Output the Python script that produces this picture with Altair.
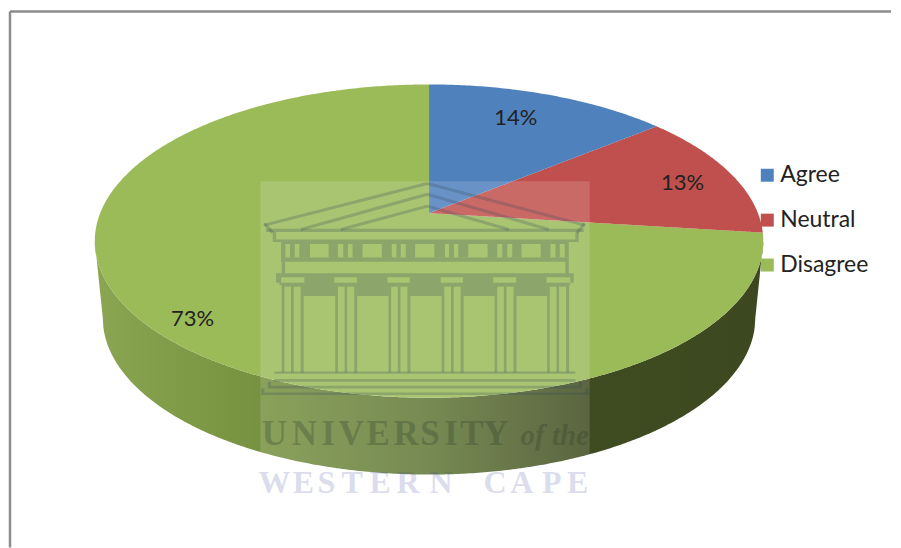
import numpy as np
import pandas as pd
import altair as alt

# ---------- chart values ----------
categories = ["Agree", "Neutral", "Disagree"]
shares = [14, 13, 73]
slice_colors = ["#4f81bd", "#c0504d", "#9bbb59"]
label_x = [517, 684, 193]
label_y = [118, 183, 319]
legend_x = [769, 769, 769]
legend_y = [175, 220, 265]

# ---------- watermark lettering ----------
line1_letters = list("UNIVERSITY")
line1_x = [275, 305, 329, 352, 379, 407, 431, 452, 473, 497]
line2_letters = list("WESTERNCAPE")
line2_x = [275, 304, 327, 353, 381, 409, 442, 496, 523, 553, 579]

# ---------- watermark temple, in 3x-zoom units of the logo box ----------
frieze_lights = [(108,122),(136,150),(182,238),(266,282),(296,310),(340,398),(428,442),
                 (455,470),(498,556),(588,600),(615,628),(658,716),(745,760),(775,790),
                 (818,876),(905,920),(933,948)]
capitals = [(95,165),(255,323),(415,482),(575,642),(733,802),(893,962)]
column_starts = [97, 258, 418, 578, 737, 895]
column_stripes = [(0,8),(28,36),(57,66)]
pediment = [((45,165),(535,40)), ((155,178),(535,72)), ((275,178),(535,108)),
            ((535,40),(1008,165)), ((535,72),(900,178)), ((535,108),(780,178)),
            ((45,160),(70,188)), ((1008,160),(985,188))]

# ---------- projection of the tilted disc ----------
CX, TIP_Y, TOP_Y, BOT_Y = 430.0, 213.0, 84.0, 398.0
RX, ELL_Y = 335.0, (TOP_Y + BOT_Y) / 2
RY = (BOT_Y - TOP_Y) / 2
up, down = TIP_Y - TOP_Y, BOT_Y - TIP_Y
K = (down - up) / (down + up)
B = up * (1 + K)
A = RX * np.sqrt(1 - K * K)


def rim(frac):
    a = 2 * np.pi * frac
    d = 1 + K * np.cos(a)
    return CX + A * np.sin(a) / d, TIP_Y - B * np.cos(a) / d


def ell_up(x):
    return ELL_Y - RY * np.sqrt(np.clip(1 - ((x - CX) / RX) ** 2, 0, 1))


def ell_lo(x):
    return ELL_Y + RY * np.sqrt(np.clip(1 - ((x - CX) / RX) ** 2, 0, 1))


fr = np.cumsum(shares) / sum(shares)
p1, p2 = rim(fr[0]), rim(fr[1])
grid = CX + RX * np.sin(np.linspace(-np.pi / 2, np.pi / 2, 361))


def chord(p, x):
    return TIP_Y + (p[1] - TIP_Y) * (x - CX) / (p[0] - CX)


def xs_between(lo, hi, extra=()):
    g = grid[(grid > lo) & (grid < hi)]
    return np.unique(np.concatenate([[lo, hi], g, list(extra)]))


x = xs_between(CX, p1[0])
agree = pd.DataFrame({"x": x, "y": ell_up(x), "y2": chord(p1, x)})
x = xs_between(CX, p2[0], [p1[0]])
neutral = pd.DataFrame({"x": x, "y": np.where(x < p1[0], chord(p1, x), ell_up(x)), "y2": chord(p2, x)})
x = xs_between(CX - RX, CX + RX, [CX - 1e-3, CX, p2[0]])
dis_top = np.where(x < CX, ell_up(x), np.where(x < p2[0], chord(p2, x), ell_up(x)))
disagree = pd.DataFrame({"x": x, "y": dis_top, "y2": ell_lo(x)})

# side wall
WALL_CY, WALL_RX = 318.0, 327.0
x = xs_between(CX - RX, CX + RX, [CX - WALL_RX, CX + WALL_RX])
inner = np.abs(x - CX) <= WALL_RX
low = np.where(
    inner,
    WALL_CY + RY * np.sqrt(np.clip(1 - ((x - CX) / WALL_RX) ** 2, 0, 1)),
    ELL_Y + (WALL_CY - ELL_Y) * (RX - np.abs(x - CX)) / (RX - WALL_RX),
)
wall = pd.DataFrame({"x": x, "y": ell_lo(x), "y2": low})

# ---------- shared scales ----------
W, H = 885, 540
xs = alt.Scale(domain=[8, 893], range=[0, W], nice=False, zero=False)
ys = alt.Scale(domain=[8, 548], range=[0, H], nice=False, zero=False)
X = alt.X("x:Q", scale=xs, axis=None)
Y = alt.Y("y:Q", scale=ys, axis=None)
X2 = alt.X2("x2:Q")
Y2 = alt.Y2("y2:Q")


def zx(v):
    return 250 + v / 3


def zy(v):
    return 170 + v / 3


def area(df, **mk):
    return alt.Chart(df).mark_area(orient="vertical", **mk).encode(x=X, y=Y, y2=Y2)


frame = alt.Chart(pd.DataFrame({"x": [10, 10], "x2": [893, 10], "y": [11, 11], "y2": [11, 548]})).mark_rule(
    color="#8c8c8c", strokeWidth=2.5).encode(x=X, x2=X2, y=Y, y2=Y2)

wall_layer = area(wall, color=alt.Gradient(
    gradient="linear", x1=0, x2=1, y1=0, y2=0,
    stops=[alt.GradientStop(offset=0, color="#8ba652"),
           alt.GradientStop(offset=0.25, color="#76913f"),
           alt.GradientStop(offset=0.5, color="#5f7635"),
           alt.GradientStop(offset=0.74, color="#3f4b20"),
           alt.GradientStop(offset=1, color="#3d4820")]))

legend_df = pd.DataFrame({"x": legend_x, "y": legend_y, "c": categories, "col": slice_colors})
squares = alt.Chart(legend_df).mark_square(size=169, opacity=1, filled=True).encode(
    x=X, y=Y, color=alt.Color("col:N", scale=None))
legend_text = alt.Chart(legend_df).mark_text(
    align="left", baseline="middle", font="Lato", fontSize=23, color="#222222", dx=13
).encode(x=X, y=Y, text="c:N")

labels_df = pd.DataFrame({"x": label_x, "y": label_y, "t": [f"{s}%" for s in shares]})
labels = alt.Chart(labels_df).mark_text(
    align="center", baseline="middle", font="Lato", fontSize=22, color="#222222"
).encode(x=X, y=Y, text="t:N")

# ---------- watermark ----------
panel = alt.Chart(pd.DataFrame({"x": [261], "x2": [591], "y": [181], "y2": [497]})).mark_rect(
    color="#ffffff", opacity=0.15).encode(x=X, x2=X2, y=Y, y2=Y2)

rects = []


def add(a, b, c, d):
    rects.append({"x": zx(a), "x2": zx(b), "y": zy(c), "y2": zy(d)})


# pediment base and entablature
add(50, 1005, 176, 186)
add(70, 990, 208, 216)
add(70, 80, 186, 208)
add(980, 990, 186, 208)
# frieze
add(95, 960, 216, 222)
add(95, 960, 262, 275)
edges = [95] + [v for p in frieze_lights for v in p] + [960]
for i in range(0, len(edges), 2):
    add(edges[i], edges[i + 1], 222, 262)
add(97, 107, 275, 310)
add(950, 960, 275, 310)
# capital band
add(80, 975, 310, 322)
add(80, 95, 322, 338)
add(965, 975, 322, 338)
caps = [v for p in capitals for v in p]
for i in range(1, len(caps) - 1, 2):
    add(caps[i], caps[i + 1], 322, 338)
add(90, 965, 338, 345)
# columns and the dark gaps between them
for s in column_starts:
    for a, b in column_stripes:
        add(s + a, s + b, 345, 608)
    add(s + 8, s + 28, 345, 350)
    add(s + 36, s + 57, 345, 350)
for s, n in zip(column_starts[:-1], column_starts[1:]):
    add(s + 66, n, 345, 378)
# steps
add(75, 980, 605, 612)
add(75, 980, 628, 636)
add(55, 1000, 648, 656)
add(35, 1020, 668, 676)
add(35, 45, 656, 668)
add(1010, 1020, 656, 668)
add(55, 65, 636, 648)
add(990, 1000, 636, 648)

temple = alt.Chart(pd.DataFrame(rects)).mark_rect(color="#34495a", opacity=0.25).encode(x=X, x2=X2, y=Y, y2=Y2)
roof = alt.Chart(pd.DataFrame([
    {"x": zx(a[0]), "y": zy(a[1]), "x2": zx(b[0]), "y2": zy(b[1])} for a, b in pediment
])).mark_rule(color="#34495a", opacity=0.25, strokeWidth=3).encode(x=X, x2=X2, y=Y, y2=Y2)

l1 = alt.Chart(pd.DataFrame({"x": line1_x, "y": [445] * len(line1_x), "t": line1_letters})).mark_text(
    font="Liberation Serif", fontWeight="bold", fontSize=35, align="center", baseline="alphabetic",
    color="#2a3a28", opacity=0.28).encode(x=X, y=Y, text="t:N")
l1b = alt.Chart(pd.DataFrame({"x": [556], "y": [445], "t": ["of the"]})).mark_text(
    font="Liberation Serif", fontWeight="bold", fontStyle="italic", fontSize=29, align="center",
    baseline="alphabetic", color="#2a3a28", opacity=0.28).encode(x=X, y=Y, text="t:N")
l2 = alt.Chart(pd.DataFrame({"x": line2_x, "y": [493] * len(line2_x), "t": line2_letters})).mark_text(
    font="Liberation Serif", fontWeight="bold", fontSize=32, align="center", baseline="alphabetic",
    color="#3b4a9a", opacity=0.18).encode(x=X, y=Y, text="t:N")

chart = alt.layer(
    frame, wall_layer,
    area(disagree, color=slice_colors[2]),
    area(neutral, color=slice_colors[1]),
    area(agree, color=slice_colors[0]),
    squares, legend_text, labels,
    panel, temple, roof, l1, l1b, l2,
).properties(width=W, height=H, padding=0, background="#ffffff").configure_view(stroke=None)

chart.save("out.html", embed_options={"renderer": "svg", "actions": False})
